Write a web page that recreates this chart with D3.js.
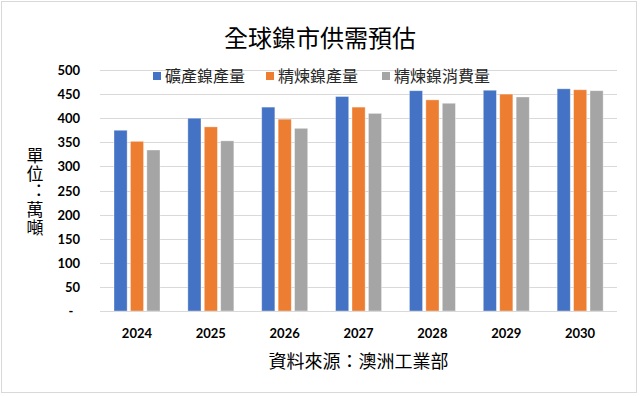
<!DOCTYPE html>
<html><head><meta charset="utf-8">
<script src="https://cdn.jsdelivr.net/npm/d3@7"></script>
<style>
html,body{margin:0;padding:0;background:#fff;}
svg{display:block;}
.vlabel{writing-mode:vertical-rl;text-orientation:upright;font-feature-settings:"vert" 0, "vrt2" 0;}
</style></head>
<body>
<svg id="chart" width="640" height="396"></svg>
<script>
const years = ["2024","2025","2026","2027","2028","2029","2030"];
const seriesNames = ["礦產鎳產量","精煉鎳產量","精煉鎳消費量"];
const mineOutput = [375, 400, 423, 445, 457, 458, 461];
const refinedOutput = [352, 382, 398, 423, 438, 450, 459];
const refinedConsumption = [334, 353, 379, 410, 431, 444, 457];
const yTicks = [0, 50, 100, 150, 200, 250, 300, 350, 400, 450, 500];
const colors = ["#4472C4", "#ED7D31", "#A5A5A5"];
const titleText = "全球鎳市供需預估";
const yLabelText = "單位：萬噸";
const sourceText = "資料來源：澳洲工業部";

const seriesValues = [mineOutput, refinedOutput, refinedConsumption];
const svg = d3.select("#chart");
const cjk = "'Noto Sans CJK TC','Noto Sans CJK SC',sans-serif";
const num = "Lato,'Open Sans',sans-serif";

// frame
svg.append("rect").attr("x",1.5).attr("y",1.5).attr("width",635).attr("height",391)
  .attr("fill","#fff").attr("stroke","#d9d9d9").attr("stroke-width",1);

const x0 = d3.scaleBand().domain(years).range([100, 617]).paddingInner(0).paddingOuter(0);
const x1 = d3.scaleBand().domain(seriesNames).range([14, 60]).paddingInner(0.2).paddingOuter(0);
const y = d3.scaleLinear().domain([0, 500]).range([311, 70]);

// gridlines
svg.append("g").selectAll("line").data(yTicks).join("line")
  .attr("x1",100).attr("x2",617)
  .attr("y1",d=>Math.round(y(d))+0.5).attr("y2",d=>Math.round(y(d))+0.5)
  .attr("stroke","#d9d9d9").attr("stroke-width",1);

// y axis labels
const yAxis = d3.axisLeft(y).tickValues(yTicks).tickSize(0).tickPadding(0)
  .tickFormat(d => d === 0 ? "-" : d3.format("d")(d));
const ya = svg.append("g").attr("transform","translate(80,0)").call(yAxis);
ya.select(".domain").remove();
ya.selectAll("text").attr("font-family",num).attr("font-weight","bold")
  .attr("font-size","13px").attr("fill","#000").attr("dy","0.35em");
ya.selectAll(".tick").filter(d=>d===0).select("text").attr("text-anchor","middle").attr("x",-9);

// bars
const groups = svg.append("g").selectAll("g").data(years).join("g")
  .attr("transform", d => `translate(${x0(d)},0)`);
groups.selectAll("rect").data((d,i) => seriesNames.map((s,j)=>({s, v: seriesValues[j][i], j})))
  .join("rect")
  .attr("x", d => x1(d.s))
  .attr("width", x1.bandwidth())
  .attr("y", d => y(d.v))
  .attr("height", d => y(0) - y(d.v))
  .attr("fill", d => colors[d.j])
  .attr("stroke", "#ffffff").attr("stroke-opacity",0.45).attr("stroke-width",0.8);

// x axis
const xAxis = d3.axisBottom(x0).tickSize(0).tickPadding(0);
const xa = svg.append("g").attr("transform","translate(0,311)").call(xAxis);
xa.select(".domain").attr("stroke","#d9d9d9").attr("d","M100,0.5H617");
xa.selectAll("text").attr("font-family",num).attr("font-weight","bold")
  .attr("font-size","13px").attr("fill","#000").attr("y",27).attr("dy",0);

// title
svg.append("text").attr("x",320).attr("y",47).attr("text-anchor","middle")
  .attr("font-family",cjk).attr("font-size","24px").attr("fill","#000").text(titleText);

// legend
const legendX = [153, 266, 382];
const lg = svg.append("g").selectAll("g").data(seriesNames).join("g")
  .attr("transform",(d,i)=>`translate(${legendX[i]},0)`);
lg.append("rect").attr("x",0).attr("y",72).attr("width",8).attr("height",8)
  .attr("fill",(d,i)=>colors[i]);
lg.append("text").attr("x",12).attr("y",82).attr("font-family",cjk)
  .attr("font-size","16px").attr("fill","#262626").text(d=>d);

// y label (vertical writing)
svg.append("text").attr("class","vlabel").attr("x",35).attr("y",147)
  .attr("font-family",cjk).attr("font-size","17px").attr("letter-spacing","1px")
  .attr("fill","#000").text(yLabelText);

// source
svg.append("text").attr("x",358.5).attr("y",368).attr("text-anchor","middle")
  .attr("font-family",cjk).attr("font-size","18px").attr("fill","#000").text(sourceText);
</script>
</body></html>
